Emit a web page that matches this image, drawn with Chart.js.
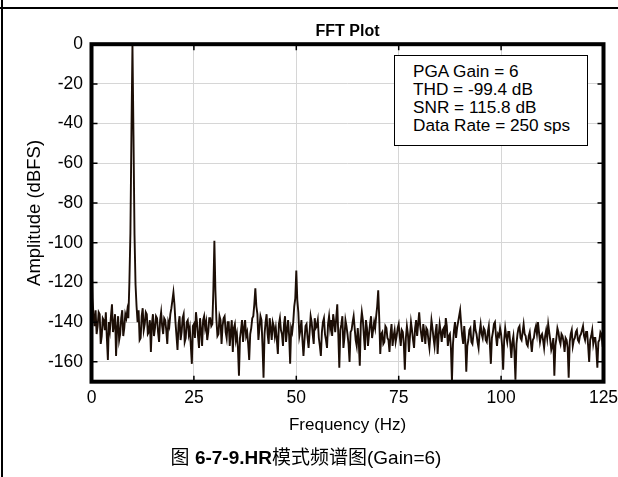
<!DOCTYPE html>
<html>
<head>
<meta charset="utf-8">
<script src="https://cdn.jsdelivr.net/npm/chart.js@4.4.1/dist/chart.umd.min.js"></script>
<style>
    html, body { margin: 0; padding: 0; background: #fff; }
    body { width: 618px; height: 477px; position: relative; overflow: hidden;
           font-family: Arial, "Liberation Sans", "Noto Sans CJK SC", sans-serif; }
    #chart-wrap { position: absolute; left: 0; top: 0; width: 618px; height: 477px; }
    .rule-top { position: absolute; left: 0; top: 7px; width: 618px; height: 2px; background: #000; }
    .rule-left { position: absolute; left: 1px; top: 0; width: 2px; height: 477px; background: #000; }
    #stats { position: absolute; left: 394px; top: 55px; width: 174px; height: 76px;
             border: 1.5px solid #000; background: #fff; padding: 6px 0 7px 18px;
             font-size: 17.2px; line-height: 18px; color: #000; white-space: nowrap; }
    #caption { position: absolute; left: 0; width: 612px; top: 447px; text-align: center;
               font-size: 19px; line-height: 22px; color: #000; }
    #caption b { font-weight: bold; }
</style>
</head>
<body>
<div id="chart-wrap"><canvas id="fft-chart" width="618" height="477"></canvas></div>
<div class="rule-top"></div>
<div class="rule-left"></div>
<div id="stats">
    <div>PGA Gain = 6</div>
    <div>THD = -99.4 dB</div>
    <div>SNR = 115.8 dB</div>
    <div>Data Rate = 250 sps</div>
</div>
<div id="caption">图 <b>6-7-9.HR</b>模式频谱图(Gain=6)</div>

<script>
// spectrum, one value per 0.25 Hz bin (0 .. 125 Hz), 20 bins = 5 Hz per row
const binHz = 0.25;
const amplitudeDb = [
    -105, -128, -137, -142, -134, -146, -142, -135, -136, -151, -147, -138, -139, -144, -135, -148, -159, -140, -144, -137,
    -131, -145, -141, -136, -157, -143, -137, -149, -146, -138, -134, -147, -143, -136, -138, -134, -138, -120, -95, -45,
    0, -46, -96, -121, -132, -140, -134, -149, -148, -137, -133, -144, -141, -135, -136, -146, -145, -139, -155, -141,
    -136, -147, -143, -137, -138, -145, -150, -139, -135, -142, -146, -138, -139, -144, -151, -140, -142, -136, -133, -129,
    -125, -131, -140, -147, -154, -141, -137, -149, -145, -138, -136, -150, -148, -140, -139, -146, -143, -152, -161, -142,
    -141, -148, -135, -140, -147, -153, -138, -144, -152, -139, -137, -143, -140, -149, -145, -138, -138, -142, -141, -124,
    -99, -124, -139, -147, -146, -137, -139, -151, -142, -138, -137, -145, -148, -140, -140, -152, -145, -139, -155, -143,
    -141, -149, -146, -153, -167, -148, -144, -139, -150, -143, -139, -147, -145, -151, -159, -146, -143, -138, -137, -131,
    -123, -132, -136, -149, -143, -137, -139, -152, -168, -146, -140, -136, -146, -151, -138, -143, -149, -140, -142, -147,
    -143, -149, -156, -141, -138, -144, -146, -152, -141, -137, -150, -144, -139, -147, -161, -143, -145, -140, -132, -128,
    -114, -129, -135, -147, -144, -139, -149, -157, -149, -142, -141, -148, -153, -145, -137, -140, -146, -151, -138, -143,
    -142, -139, -148, -152, -157, -145, -140, -138, -146, -149, -153, -141, -137, -143, -139, -147, -136, -140, -145, -138,
    -131, -146, -163, -144, -141, -137, -153, -148, -139, -142, -146, -151, -160, -145, -144, -140, -137, -143, -149, -152,
    -143, -150, -162, -141, -135, -139, -147, -154, -139, -143, -152, -146, -141, -137, -148, -144, -140, -143, -137, -132,
    -124, -138, -156, -146, -145, -151, -150, -142, -143, -148, -149, -155, -146, -141, -152, -147, -144, -150, -147, -143,
    -141, -147, -152, -144, -145, -151, -164, -148, -142, -146, -155, -147, -140, -144, -149, -153, -143, -139, -147, -141,
    -135, -142, -146, -150, -141, -145, -151, -143, -144, -149, -153, -146, -139, -143, -148, -152, -145, -141, -156, -147,
    -141, -145, -150, -144, -143, -148, -138, -142, -152, -147, -146, -153, -170, -151, -144, -140, -148, -143, -140, -137,
    -134, -141, -147, -151, -142, -149, -165, -152, -149, -144, -143, -150, -151, -146, -139, -144, -146, -150, -153, -145,
    -141, -146, -148, -143, -144, -149, -150, -145, -142, -151, -161, -148, -145, -141, -140, -147, -152, -146, -147, -143,
    -146, -152, -164, -149, -143, -147, -150, -145, -145, -151, -158, -150, -147, -155, -169, -151, -146, -143, -142, -148,
    -149, -145, -141, -146, -147, -151, -152, -147, -145, -150, -155, -149, -148, -144, -142, -146, -140, -145, -150, -147,
    -146, -149, -153, -147, -144, -148, -141, -145, -149, -154, -152, -148, -167, -152, -148, -143, -145, -149, -151, -146,
    -147, -150, -155, -148, -149, -153, -168, -150, -146, -144, -152, -149, -148, -145, -144, -149, -150, -147, -146, -144,
    -142, -147, -149, -145, -145, -152, -160, -149, -147, -144, -151, -148, -148, -154, -163, -150, -149, -145, -146, -151,
    -150
];

const xTicks = [0, 25, 50, 75, 100, 125];
const yTicks = [0, -20, -40, -60, -80, -100, -120, -140, -160];
const yMin = -170;
const yMax = 0;

const chartTitle = 'FFT Plot';
const xTitle = 'Frequency (Hz)';
const yTitle = 'Amplitude (dBFS)';

const fontFamily = 'Arial, "Liberation Sans", sans-serif';

const points = amplitudeDb.map((v, i) => ({ x: i * binHz, y: v }));

// thick frame round the plot area, with short inward tick marks
const framePlugin = {
    id: 'frame',
    afterDatasetsDraw(chart) {
        const { ctx, chartArea: a, scales } = chart;
        ctx.save();
        ctx.strokeStyle = '#000';
        ctx.lineWidth = 1.5;
        ctx.beginPath();
        yTicks.forEach(v => {
            const y = scales.y.getPixelForValue(v);
            ctx.moveTo(a.left, y); ctx.lineTo(a.left + 6, y);
            ctx.moveTo(a.right, y); ctx.lineTo(a.right - 6, y);
        });
        xTicks.forEach(v => {
            const x = scales.x.getPixelForValue(v);
            ctx.moveTo(x, a.top); ctx.lineTo(x, a.top + 6);
            ctx.moveTo(x, a.bottom); ctx.lineTo(x, a.bottom - 6);
        });
        ctx.stroke();
        ctx.lineWidth = 4;
        ctx.strokeRect(a.left, a.top, a.right - a.left, a.bottom - a.top);
        ctx.restore();
    }
};

const ctx = document.getElementById('fft-chart').getContext('2d');
new Chart(ctx, {
    type: 'line',
    data: {
        datasets: [{
            data: points,
            borderColor: '#1c0e06',
            borderWidth: 1.9,
            pointRadius: 0,
            tension: 0,
            fill: false
        }]
    },
    options: {
        responsive: false,
        animation: false,
        layout: { padding: { left: 0, right: 14.5, top: 0, bottom: 0 } },
        plugins: {
            legend: { display: false },
            tooltip: { enabled: false },
            title: {
                display: true,
                text: chartTitle,
                fullSize: false,
                color: '#000',
                font: { family: fontFamily, size: 16, weight: 'bold' },
                padding: { top: 22, bottom: 3 }
            }
        },
        scales: {
            x: {
                type: 'linear',
                min: 0,
                max: 125,
                afterBuildTicks: axis => { axis.ticks = xTicks.map(v => ({ value: v })); },
                afterFit: axis => { axis.height = 95.3; axis.paddingLeft = 0; axis.paddingRight = 0; },
                ticks: { color: '#000', padding: 5.8, maxRotation: 0,
                         font: { family: fontFamily, size: 17.5 } },
                grid: { color: '#d6d6d6', lineWidth: 1, drawTicks: false },
                border: { display: false },
                title: { display: true, text: xTitle, color: '#000',
                         font: { family: fontFamily, size: 17 },
                         padding: { top: 0, bottom: 41.8 } }
            },
            y: {
                type: 'linear',
                min: yMin,
                max: yMax,
                afterBuildTicks: axis => { axis.ticks = yTicks.map(v => ({ value: v })); },
                afterFit: axis => { axis.width = 91.5; axis.paddingTop = 0; axis.paddingBottom = 0; },
                ticks: { color: '#000', padding: 8.5,
                         font: { family: fontFamily, size: 17.5 } },
                grid: { color: '#d6d6d6', lineWidth: 1, drawTicks: false },
                border: { display: false },
                title: { display: true, text: yTitle, color: '#000',
                         font: { family: fontFamily, size: 18.5 },
                         padding: { top: 23.9, bottom: 0 } }
            }
        }
    },
    plugins: [framePlugin]
});
</script>
</body>
</html>
